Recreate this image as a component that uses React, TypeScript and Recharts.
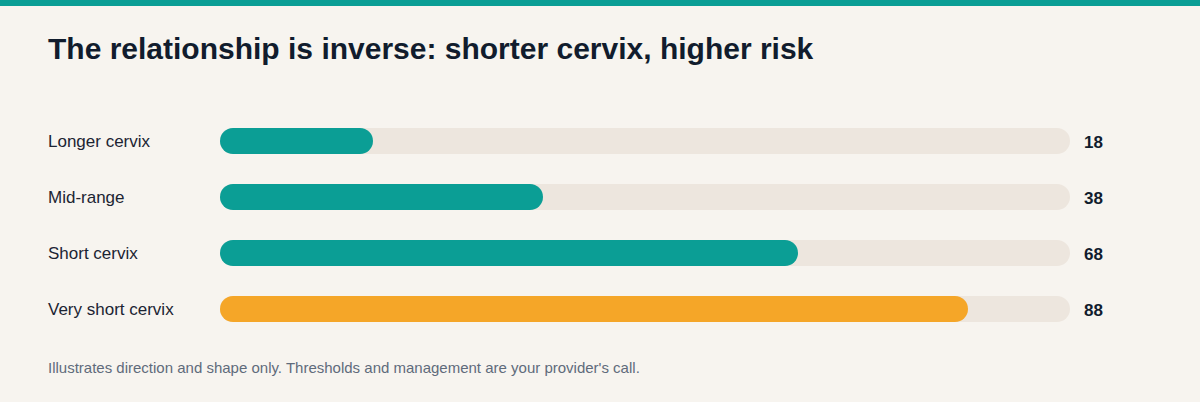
import { BarChart, Bar, XAxis, YAxis, Cell } from "recharts";

const categories = ["Longer cervix", "Mid-range", "Short cervix", "Very short cervix"];
const riskValues = [18, 38, 68, 88];
const highlighted = [false, false, false, true];

const TEAL = "#0b9e95";
const AMBER = "#f5a628";
const TRACK = "#ede6de";
const INK = "#111c2d";
const FONT = '"Liberation Sans", Arial, sans-serif';

const rows = categories.map((name, i) => ({ name, value: riskValues[i], hi: highlighted[i] }));

function LabelTick({ y, payload }: any) {
  return (
    <text x={48} y={y} dy={6} textAnchor="start" fontSize={17} fill="#1c2433" fontFamily={FONT}>
      {payload.value}
    </text>
  );
}

function ValueTick({ x, y, payload }: any) {
  const row = rows.find((r) => r.name === payload.value);
  return (
    <text x={x + 6} y={y} dy={7} textAnchor="start" fontSize={17} fontWeight={700} fill={INK} fontFamily={FONT}>
      {row ? row.value : ""}
    </text>
  );
}

export default function App() {
  return (
    <div
      style={{
        position: "absolute",
        top: 0,
        left: 0,
        width: 1200,
        height: 402,
        background: "#f7f4ef",
        borderTop: `6px solid ${TEAL}`,
        boxSizing: "border-box",
        fontFamily: FONT,
      }}
    >
      <div style={{ position: "absolute", left: 48, top: 26, fontSize: 30, fontWeight: 700, color: INK, whiteSpace: "nowrap" }}>
        The relationship is inverse: shorter cervix, higher risk
      </div>
      <div style={{ position: "absolute", left: 0, top: 107 }}>
        <BarChart width={1200} height={224} data={rows} layout="vertical" margin={{ top: 0, right: 0, bottom: 0, left: 48 }}>
          <XAxis type="number" domain={[0, 100]} hide />
          <YAxis yAxisId="l" type="category" dataKey="name" width={172} axisLine={false} tickLine={false} tick={<LabelTick />} />
          <YAxis yAxisId="r" orientation="right" type="category" dataKey="name" width={130} axisLine={false} tickLine={false} tick={<ValueTick />} />
          <Bar yAxisId="l" dataKey="value" barSize={26} radius={13} background={{ fill: TRACK, radius: 13 } as any} isAnimationActive={false}>
            {rows.map((r) => (
              <Cell key={r.name} fill={r.hi ? AMBER : TEAL} />
            ))}
          </Bar>
        </BarChart>
      </div>
      <div style={{ position: "absolute", left: 48, top: 353, fontSize: 15, color: "#5f6b7b", whiteSpace: "nowrap" }}>
        Illustrates direction and shape only. Thresholds and management are your provider's call.
      </div>
    </div>
  );
}
